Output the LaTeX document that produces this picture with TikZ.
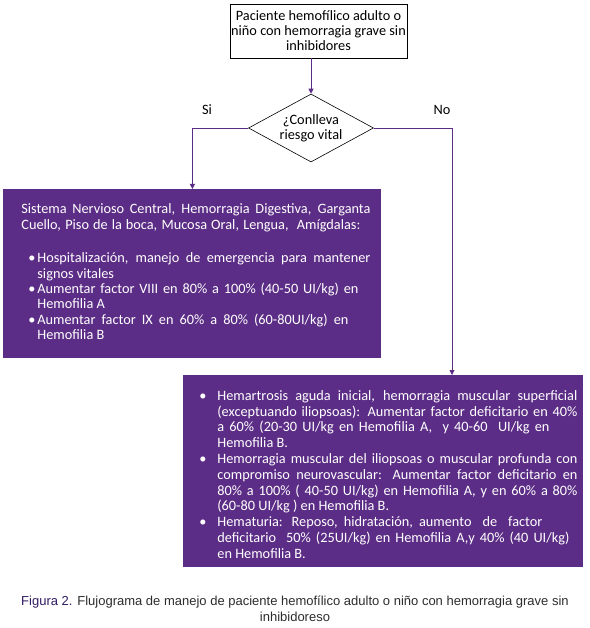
\documentclass[tikz,border=0pt]{standalone}
\usepackage{fontspec}
\setmainfont{Carlito}
\newfontfamily\capfont{Liberation Sans}
\usetikzlibrary{shapes.geometric,arrows.meta}
\definecolor{hemopurple}{RGB}{92,45,134}
\definecolor{capblue}{RGB}{50,28,100}
\definecolor{capgray}{RGB}{45,45,45}
\newcommand{\bul}[2]{\hangindent=#1\hangafter=1\noindent\makebox[#1][l]{\hspace*{#2}\textbullet}}
\newcommand{\spread}[2]{\makebox[#1][s]{#2}}
\begin{document}
\begin{tikzpicture}[x=1pt,y=-1pt,line width=0.8pt,
    >={Triangle[width=5pt,length=5pt]},
    flowline/.style={hemopurple,->},
    whitebox/.style={draw=black,line width=0.6pt,fill=white,align=center,inner sep=1pt,
      minimum width=173pt,minimum height=54pt,font=\fontsize{14.3}{15}\selectfont},
    purplebox/.style={fill=hemopurple,text=white,inner xsep=0pt,inner ysep=0pt,anchor=north west}]
  \useasboundingbox[fill=white] (0,0) rectangle (589,628);
  % start and decision
  \node[whitebox] (start) at (318.5,31) {Paciente hemofílico adulto o\\niño con hemorragia grave sin\\inhibidores};
  \node[diamond,draw=black,line width=0.6pt,aspect=1.84,inner sep=0pt,minimum width=125pt,minimum height=68pt,
    align=center,font=\fontsize{14.3}{15}\selectfont] (risk) at (311,128) {¿Conlleva\\riesgo vital};
  \node[font=\fontsize{14.3}{15}\selectfont] (si) at (207,110) {Si};
  \node[font=\fontsize{14.3}{15}\selectfont] (no) at (442,110) {No};
  % life threatening bleeding
  \node[purplebox] (grave) at (3,189) {\hspace*{18pt}\begin{minipage}[t][169pt][t]{349pt}
    \fontsize{14.3}{15.3}\selectfont
    \vspace*{14.5pt}
    Sistema Nervioso Central, Hemorragia Digestiva, Garganta\linebreak
    \spread{339pt}{Cuello, Piso de la boca, Mucosa Oral, Lengua, \ Amígdalas:}\par
    \vspace{18.5pt}
    \bul{16pt}{7pt}Hospitalización, manejo de emergencia para mantener\linebreak signos vitales\par
    \bul{16pt}{7pt}\spread{321pt}{Aumentar factor VIII en 80\% a 100\% (40-50 UI/kg) en}\newline Hemofilia A\par
    \bul{16pt}{7pt}\spread{311pt}{Aumentar factor IX en 60\% a 80\% (60-80UI/kg) en}\newline Hemofilia B\par
  \end{minipage}\hspace*{11pt}};
  % other bleeding
  \node[purplebox] (leve) at (183,375) {\hspace*{16pt}\begin{minipage}[t][192pt][t]{378pt}
    \fontsize{14.3}{15.8}\selectfont
    \vspace*{15pt}
    \bul{18pt}{0pt}Hemartrosis aguda inicial, hemorragia muscular superficial\linebreak
      (exceptuando iliopsoas): Aumentar factor deficitario en 40\%\linebreak
      \spread{332pt}{a 60\% (20-30 UI/kg en Hemofilia A, \ y 40-60 \ UI/kg en}\newline Hemofilia B.\par
    \bul{18pt}{0pt}Hemorragia muscular del iliopsoas o muscular profunda con\linebreak
      compromiso neurovascular: Aumentar factor deficitario en\linebreak
      80\% a 100\% ( 40-50 UI/kg) en Hemofilia A, y en 60\% a 80\%\linebreak
      (60-80 UI/kg ) en Hemofilia B.\par
    \bul{18pt}{0pt}\spread{325pt}{Hematuria: Reposo, hidratación, aumento \ de \ factor}\newline
      \spread{352pt}{deficitario \ 50\% (25UI/kg) en Hemofilia A,y 40\% (40 UI/kg)}\newline
      en Hemofilia B.\par
  \end{minipage}\hspace*{6pt}};
  \coordinate (noend) at (452,375);
  % connectors
  \draw[flowline] (risk.north |- start.south) -- (risk.north);
  \draw[flowline] (risk.west) -| (grave.north);
  \draw[flowline] (risk.east) -| (noend);
  % caption
  \node[align=center,text=capgray,font=\capfont\fontsize{13}{16}\selectfont] (caption) at (295,609)
    {{\color{capblue}Figura 2.} Flujograma de manejo de paciente hemofílico adulto o niño con hemorragia grave sin\\inhibidoreso};
\end{tikzpicture}
\end{document}
